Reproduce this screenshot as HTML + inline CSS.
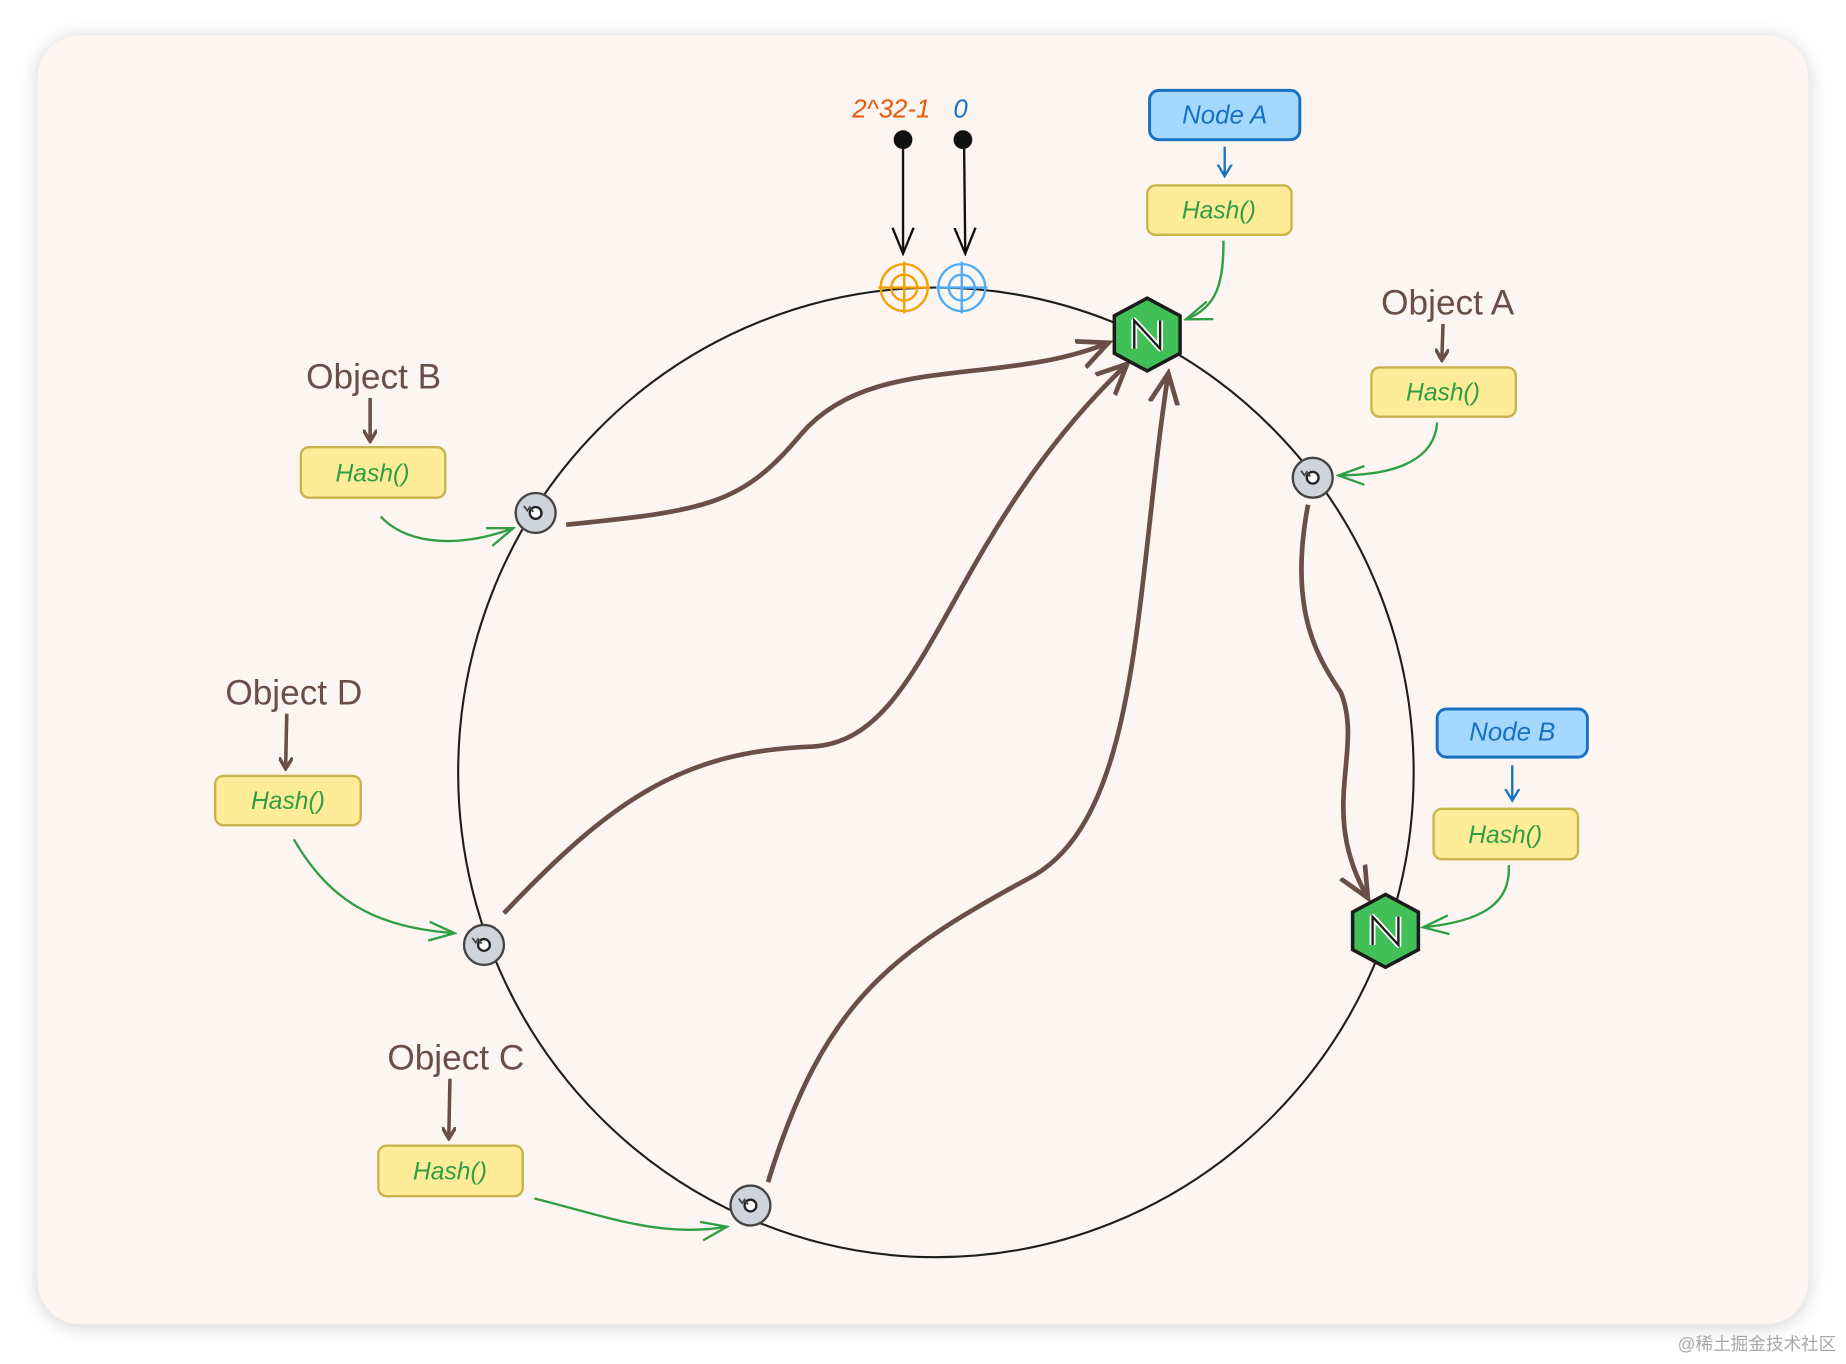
<!DOCTYPE html>
<html><head><meta charset="utf-8"><style>
html,body{margin:0;padding:0;background:#fff;}
svg{display:block;}
text{font-family:"Liberation Sans","Noto Sans CJK SC",sans-serif;}
.hand{font-family:"Liberation Sans",sans-serif;font-style:italic;}
</style></head><body>
<svg width="1846" height="1364" viewBox="0 0 1568 1162" xmlns="http://www.w3.org/2000/svg">
<defs>
<filter id="sh" x="-5%" y="-5%" width="110%" height="110%"><feDropShadow dx="0" dy="2" stdDeviation="8" flood-color="#000" flood-opacity="0.18"/></filter>
<marker id="ab" markerWidth="12" markerHeight="12" refX="10" refY="6" orient="auto" markerUnits="userSpaceOnUse"><path d="M0,0 L10,6 L0,12" fill="none" stroke="#6a4f47" stroke-width="3"/></marker>
<marker id="ab2" markerWidth="30" markerHeight="30" refX="26" refY="15" orient="auto" markerUnits="userSpaceOnUse"><path d="M0,3 L26,15 L0,27" fill="none" stroke="#6a4f47" stroke-width="4"/></marker>
<marker id="ag" markerWidth="24" markerHeight="20" refX="22" refY="10" orient="auto" markerUnits="userSpaceOnUse"><path d="M0,2 L22,10 L0,18" fill="none" stroke="#2f9e44" stroke-width="2"/></marker>
<marker id="abl" markerWidth="12" markerHeight="14" refX="10" refY="7" orient="auto" markerUnits="userSpaceOnUse"><path d="M0,1 L10,7 L0,13" fill="none" stroke="#1971c2" stroke-width="2"/></marker>
<marker id="ak" markerWidth="24" markerHeight="20" refX="22" refY="10" orient="auto" markerUnits="userSpaceOnUse"><path d="M0,1 L22,10 L0,19" fill="none" stroke="#111" stroke-width="2"/></marker>
<g id="disk"><circle r="17" fill="#ced4da" stroke="#444" stroke-width="2"/><circle r="5" fill="#fff" stroke="#222" stroke-width="2"/><path d="M-10,-6 l3,4 l2,-3 l3,4" stroke="#444" fill="none" stroke-width="1.5"/></g>
<g id="hex"><polygon points="0,-31 28,-16 28,16 0,31 -28,16 -28,-16" fill="#40c057" stroke="#1b1b1b" stroke-width="3"/><path d="M-11,12 L-11,-12 L11,12 L11,-12" fill="none" stroke="#fff" stroke-width="5" stroke-linejoin="round"/><path d="M-11,12 L-11,-12 L11,12 L11,-12" fill="none" stroke="#1b1b1b" stroke-width="2"/></g>
</defs>
<rect x="30" y="30" width="1508" height="1098" rx="36" fill="#fcf5f2" filter="url(#sh)"/>
<ellipse cx="795" cy="658" rx="407" ry="413" fill="none" stroke="#1e1e1e" stroke-width="1.8"/>

<text x="757" y="100" class="hand" font-size="22" fill="#e8590c" text-anchor="middle">2^32-1</text>
<text x="816" y="100" class="hand" font-size="22" fill="#1971c2" text-anchor="middle">0</text>
<circle cx="767" cy="119" r="8" fill="#111"/><circle cx="818" cy="119" r="8" fill="#111"/>
<line x1="767" y1="122" x2="767" y2="216" stroke="#111" stroke-width="2" marker-end="url(#ak)"/>
<line x1="819" y1="122" x2="820" y2="216" stroke="#111" stroke-width="2" marker-end="url(#ak)"/>
<g fill="none" stroke="#f59f00" stroke-width="2"><circle cx="768" cy="245" r="20"/><circle cx="768" cy="245" r="11"/><line x1="746" y1="245" x2="790" y2="245"/><line x1="768" y1="223" x2="768" y2="267"/></g>
<g fill="none" stroke="#4dabf7" stroke-width="2"><circle cx="817" cy="245" r="20"/><circle cx="817" cy="245" r="11"/><line x1="795" y1="245" x2="839" y2="245"/><line x1="817" y1="223" x2="817" y2="267"/></g>

<rect x="977" y="77" width="128" height="42" rx="8" fill="#a5d8ff" stroke="#1971c2" stroke-width="2.5"/>
<text x="1041" y="105" class="hand" font-size="22" fill="#1971c2" text-anchor="middle">Node A</text>
<line x1="1041" y1="125" x2="1041" y2="150" stroke="#1971c2" stroke-width="2" marker-end="url(#abl)"/>
<rect x="1222" y="604" width="128" height="41" rx="8" fill="#a5d8ff" stroke="#1971c2" stroke-width="2.5"/>
<text x="1286" y="631" class="hand" font-size="22" fill="#1971c2" text-anchor="middle">Node B</text>
<line x1="1286" y1="652" x2="1286" y2="682" stroke="#1971c2" stroke-width="2" marker-end="url(#abl)"/>

<g fill="#ffec99" stroke="#c9b44a" stroke-width="2">
<rect x="975" y="158" width="123" height="42" rx="7"/>
<rect x="1166" y="313" width="123" height="42" rx="7"/>
<rect x="254" y="381" width="123" height="43" rx="7"/>
<rect x="181" y="661" width="124" height="42" rx="7"/>
<rect x="320" y="976" width="123" height="43" rx="7"/>
<rect x="1219" y="689" width="123" height="43" rx="7"/>
</g>
<g class="hand" font-size="21" fill="#2f9e44" text-anchor="middle">
<text x="1036" y="186">Hash()</text><text x="1227" y="341">Hash()</text><text x="315" y="410">Hash()</text>
<text x="243" y="689">Hash()</text><text x="381" y="1005">Hash()</text><text x="1280" y="718">Hash()</text>
</g>

<g font-size="30" fill="#6a4f47" text-anchor="middle">
<text x="1231" y="268">Object A</text><text x="316" y="331">Object B</text>
<text x="248" y="600">Object D</text><text x="386" y="911">Object C</text>
</g>
<g stroke="#6a4f47" stroke-width="3">
<line x1="1227" y1="276" x2="1226" y2="307" marker-end="url(#ab)"/>
<line x1="313" y1="339" x2="313" y2="376" marker-end="url(#ab)"/>
<line x1="242" y1="608" x2="241" y2="655" marker-end="url(#ab)"/>
<line x1="381" y1="919" x2="380" y2="970" marker-end="url(#ab)"/>
</g>

<g fill="none" stroke="#2f9e44" stroke-width="2" marker-end="url(#ag)">
<path d="M1040,205 C1040,240 1035,262 1008,272"/>
<path d="M1222,360 C1220,390 1190,405 1138,405"/>
<path d="M322,440 C340,460 380,470 435,450"/>
<path d="M248,715 C280,770 320,790 385,795"/>
<path d="M453,1021 C510,1035 560,1055 617,1045"/>
<path d="M1283,737 C1285,770 1260,785 1210,790"/>
</g>

<g fill="none" stroke="#6a4f47" stroke-width="4" marker-end="url(#ab2)">
<path d="M480,447 C600,435 630,430 680,370 C740,300 850,330 942,292"/>
<path d="M427,778 C520,680 580,640 690,636 C790,630 800,460 958,310"/>
<path d="M652,1007 C700,850 760,810 880,745 C970,690 965,500 993,318"/>
<path d="M1112,430 C1095,520 1120,560 1140,590 C1160,640 1120,690 1163,765"/>
</g>

<use href="#disk" x="454" y="437"/><use href="#disk" x="1116" y="407"/>
<use href="#disk" x="410" y="805"/><use href="#disk" x="637" y="1027"/>
<use href="#hex" x="975" y="285"/><use href="#hex" x="1178" y="793"/>

<text x="1562" y="1150" font-size="15" fill="#a8a8a8" text-anchor="end">@稀土掘金技术社区</text>
</svg>
</body></html>
